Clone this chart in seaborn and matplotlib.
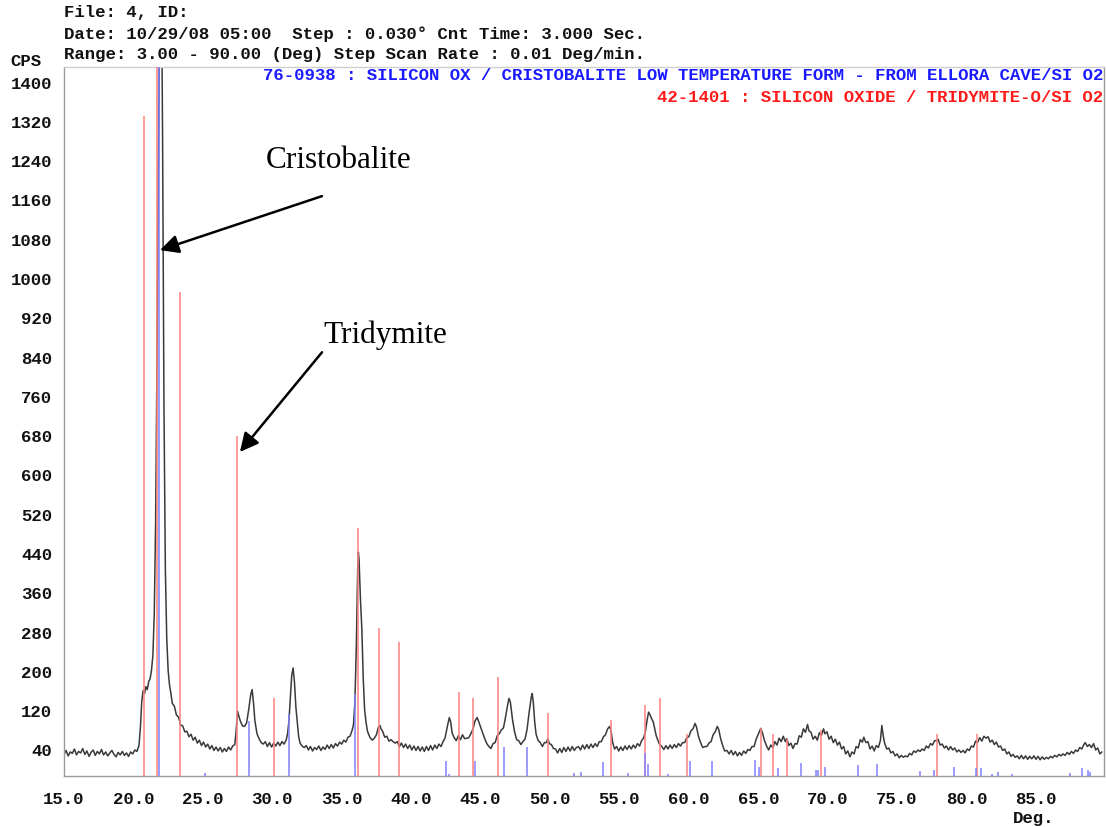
import matplotlib
matplotlib.use("Agg")
import matplotlib.pyplot as plt
from matplotlib.ticker import FixedLocator, MultipleLocator
import pandas as pd
import seaborn as sns

# Measured scan: (2-theta in degrees, counts per second)
scan = [
    (15.00, 44), (15.15, 52), (15.30, 41), (15.45, 49), (15.60, 46), (15.75, 55), (15.90, 43), (16.05, 50), (16.20, 47), (16.35, 56),
    (16.50, 44), (16.65, 51), (16.80, 40), (16.95, 48), (17.10, 53), (17.25, 42), (17.40, 50), (17.55, 45), (17.70, 54), (17.85, 43),
    (18.00, 49), (18.15, 41), (18.30, 47), (18.45, 52), (18.60, 44), (18.75, 39), (18.90, 48), (19.05, 43), (19.20, 50), (19.35, 42),
    (19.50, 47), (19.65, 40), (19.80, 49), (19.95, 45), (20.10, 53), (20.25, 50), (20.40, 62), (20.50, 98), (20.60, 152), (20.70, 174),
    (20.80, 168), (20.90, 182), (21.00, 176), (21.10, 192), (21.20, 198), (21.30, 215), (21.40, 245), (21.50, 330), (21.60, 520), (21.70, 860),
    (21.80, 1250), (21.90, 1600), (22.00, 1700), (22.10, 1300), (22.20, 750), (22.30, 420), (22.40, 280), (22.50, 215), (22.60, 185), (22.70, 168),
    (22.80, 148), (22.95, 142), (23.10, 124), (23.25, 120), (23.40, 104), (23.55, 102), (23.70, 90), (23.85, 91), (24.00, 80), (24.15, 85),
    (24.30, 73), (24.45, 79), (24.60, 67), (24.75, 73), (24.90, 62), (25.05, 69), (25.20, 59), (25.35, 65), (25.50, 55), (25.65, 62),
    (25.80, 52), (25.95, 59), (26.10, 51), (26.25, 58), (26.40, 49), (26.55, 56), (26.70, 50), (26.85, 59), (27.00, 53), (27.15, 61),
    (27.30, 64), (27.40, 92), (27.50, 132), (27.60, 121), (27.70, 112), (27.85, 102), (28.00, 101), (28.15, 108), (28.30, 135), (28.45, 166),
    (28.55, 176), (28.65, 148), (28.75, 112), (28.90, 86), (29.05, 76), (29.20, 68), (29.35, 65), (29.50, 70), (29.65, 60), (29.80, 68),
    (29.95, 59), (30.10, 67), (30.25, 61), (30.40, 69), (30.55, 62), (30.70, 70), (30.85, 65), (31.00, 73), (31.10, 86), (31.20, 112),
    (31.30, 160), (31.40, 205), (31.50, 220), (31.60, 190), (31.70, 140), (31.80, 110), (31.90, 80), (32.00, 67), (32.15, 61), (32.30, 58),
    (32.45, 62), (32.60, 53), (32.75, 60), (32.90, 51), (33.05, 58), (33.20, 54), (33.35, 61), (33.50, 52), (33.65, 59), (33.80, 54),
    (33.95, 63), (34.10, 56), (34.25, 64), (34.40, 57), (34.55, 66), (34.70, 61), (34.85, 69), (35.00, 65), (35.15, 73), (35.30, 69),
    (35.45, 79), (35.60, 81), (35.75, 93), (35.85, 105), (35.95, 150), (36.05, 260), (36.15, 420), (36.20, 456), (36.25, 440), (36.35, 360),
    (36.45, 300), (36.55, 200), (36.65, 135), (36.75, 110), (36.85, 92), (36.95, 84), (37.05, 78), (37.20, 73), (37.35, 77), (37.50, 84),
    (37.65, 100), (37.75, 103), (37.85, 95), (37.95, 91), (38.10, 79), (38.25, 81), (38.40, 71), (38.55, 74), (38.70, 70), (38.85, 67),
    (39.00, 70), (39.15, 60), (39.30, 67), (39.45, 58), (39.60, 65), (39.75, 56), (39.90, 63), (40.05, 53), (40.20, 61), (40.35, 52),
    (40.50, 60), (40.65, 51), (40.80, 59), (40.95, 50), (41.10, 60), (41.25, 52), (41.40, 62), (41.55, 53), (41.70, 63), (41.85, 56),
    (42.00, 65), (42.15, 60), (42.30, 70), (42.45, 78), (42.60, 100), (42.75, 119), (42.85, 110), (42.95, 88), (43.10, 78), (43.25, 72),
    (43.40, 82), (43.55, 74), (43.70, 84), (43.85, 76), (44.00, 77), (44.15, 78), (44.30, 86), (44.45, 95), (44.60, 112), (44.75, 119),
    (44.85, 112), (45.00, 100), (45.15, 88), (45.30, 76), (45.45, 66), (45.60, 60), (45.75, 56), (45.90, 66), (46.05, 68), (46.20, 82),
    (46.35, 86), (46.50, 94), (46.65, 98), (46.80, 120), (46.95, 145), (47.05, 158), (47.15, 150), (47.30, 115), (47.45, 90), (47.60, 74),
    (47.75, 72), (47.90, 64), (48.05, 70), (48.20, 75), (48.35, 95), (48.50, 130), (48.65, 160), (48.72, 168), (48.80, 150), (48.90, 110),
    (49.00, 85), (49.15, 72), (49.30, 68), (49.45, 60), (49.60, 68), (49.75, 68), (49.85, 76), (49.95, 66), (50.10, 64), (50.25, 56),
    (50.40, 55), (50.55, 47), (50.70, 56), (50.85, 48), (51.00, 58), (51.15, 50), (51.30, 59), (51.45, 51), (51.60, 60), (51.75, 52),
    (51.90, 58), (52.05, 60), (52.20, 53), (52.35, 63), (52.50, 55), (52.65, 64), (52.80, 56), (52.95, 65), (53.10, 58), (53.25, 66),
    (53.40, 60), (53.55, 70), (53.70, 70), (53.85, 80), (54.00, 84), (54.15, 96), (54.30, 101), (54.40, 92), (54.50, 70), (54.65, 55),
    (54.80, 60), (54.95, 51), (55.10, 59), (55.25, 52), (55.40, 61), (55.55, 54), (55.70, 62), (55.85, 55), (56.00, 63), (56.15, 57),
    (56.30, 66), (56.45, 61), (56.60, 72), (56.75, 78), (56.87, 90), (57.00, 115), (57.10, 130), (57.20, 125), (57.30, 118), (57.44, 110),
    (57.55, 95), (57.65, 82), (57.78, 72), (57.90, 64), (58.05, 60), (58.20, 54), (58.35, 62), (58.50, 55), (58.65, 63), (58.80, 56),
    (58.95, 64), (59.10, 58), (59.25, 66), (59.40, 61), (59.55, 68), (59.70, 68), (59.85, 78), (60.00, 80), (60.15, 92), (60.30, 96),
    (60.45, 107), (60.55, 100), (60.70, 80), (60.85, 68), (61.00, 58), (61.15, 60), (61.30, 60), (61.45, 67), (61.60, 70), (61.75, 84),
    (61.90, 90), (62.05, 101), (62.15, 95), (62.30, 75), (62.45, 61), (62.58, 51), (62.75, 52), (62.90, 45), (63.05, 52), (63.20, 43),
    (63.35, 50), (63.50, 41), (63.65, 48), (63.80, 42), (63.95, 51), (64.10, 46), (64.25, 54), (64.40, 52), (64.55, 60), (64.70, 60),
    (64.85, 75), (65.00, 85), (65.18, 97), (65.30, 88), (65.45, 72), (65.60, 61), (65.75, 53), (65.90, 63), (66.05, 58), (66.20, 70),
    (66.35, 63), (66.50, 77), (66.65, 70), (66.80, 81), (66.95, 70), (67.05, 76), (67.20, 62), (67.35, 67), (67.50, 56), (67.65, 66),
    (67.80, 65), (67.95, 82), (68.10, 79), (68.25, 96), (68.40, 89), (68.55, 105), (68.65, 92), (68.80, 89), (68.95, 75), (69.10, 81),
    (69.25, 73), (69.40, 88), (69.55, 83), (69.70, 96), (69.80, 86), (69.95, 90), (70.10, 75), (70.25, 81), (70.40, 68), (70.55, 75),
    (70.70, 63), (70.85, 69), (71.00, 55), (71.15, 60), (71.30, 45), (71.45, 51), (71.60, 39), (71.75, 49), (71.90, 45), (72.05, 60),
    (72.20, 57), (72.35, 74), (72.50, 69), (72.60, 79), (72.75, 68), (72.90, 70), (73.05, 55), (73.20, 61), (73.35, 51), (73.50, 62),
    (73.65, 58), (73.80, 73), (73.90, 103), (74.00, 82), (74.10, 67), (74.25, 55), (74.40, 57), (74.55, 47), (74.70, 50), (74.85, 41),
    (75.00, 45), (75.15, 37), (75.30, 42), (75.45, 38), (75.60, 41), (75.75, 39), (75.90, 46), (76.05, 43), (76.20, 51), (76.35, 48),
    (76.50, 53), (76.65, 50), (76.80, 55), (76.95, 52), (77.10, 61), (77.25, 57), (77.40, 66), (77.55, 63), (77.70, 72), (77.85, 72),
    (77.95, 75), (78.10, 63), (78.25, 65), (78.40, 57), (78.55, 61), (78.70, 53), (78.85, 60), (79.00, 53), (79.15, 57), (79.30, 49),
    (79.45, 53), (79.60, 48), (79.75, 52), (79.90, 47), (80.05, 55), (80.20, 52), (80.35, 61), (80.50, 59), (80.65, 71), (80.80, 69),
    (80.95, 78), (81.10, 71), (81.25, 81), (81.40, 77), (81.55, 80), (81.70, 69), (81.85, 73), (82.00, 64), (82.15, 69), (82.30, 59),
    (82.45, 61), (82.60, 52), (82.75, 55), (82.90, 45), (83.05, 49), (83.20, 40), (83.35, 44), (83.50, 38), (83.65, 41), (83.80, 35),
    (83.95, 42), (84.10, 35), (84.25, 41), (84.40, 34), (84.55, 40), (84.70, 35), (84.85, 41), (85.00, 34), (85.15, 40), (85.30, 33),
    (85.45, 39), (85.60, 34), (85.75, 38), (85.90, 35), (86.05, 40), (86.20, 37), (86.35, 42), (86.50, 39), (86.65, 44), (86.80, 41),
    (86.95, 45), (87.10, 42), (87.25, 48), (87.40, 44), (87.55, 50), (87.70, 46), (87.85, 53), (88.00, 50), (88.15, 58), (88.30, 55),
    (88.45, 64), (88.55, 68), (88.70, 60), (88.85, 64), (89.00, 58), (89.15, 66), (89.30, 53), (89.45, 57), (89.60, 45), (89.75, 49),
]
scan_deg = [p[0] for p in scan]
scan_cps = [p[1] for p in scan]

# Reference pattern 42-1401 (tridymite-O)
tridymite_deg = [20.75, 21.70, 23.36, 27.47, 30.14, 36.15, 37.71, 39.15, 43.48, 44.42, 46.29,
                 49.86, 54.37, 56.82, 57.90, 59.88, 65.17, 66.05, 67.04, 69.50, 77.87, 80.75]
tridymite_cps = [1345, 1500, 985, 693, 158, 505, 301, 273, 172, 158, 201,
                 128, 115, 145, 158, 86, 98, 86, 75, 93, 85, 85]

# Reference pattern 76-0938 (cristobalite, low temperature form)
cristobalite_deg = [21.85, 25.17, 28.29, 31.24, 35.98, 42.52, 42.76, 44.58, 46.67, 48.38,
                    51.74, 52.26, 53.80, 55.64, 56.82, 57.03, 58.50, 60.07, 61.68, 64.80,
                    65.07, 66.42, 68.06, 69.15, 69.30, 69.80, 72.20, 73.56, 76.66, 77.64,
                    79.10, 80.70, 81.05, 81.84, 82.27, 83.30, 87.45, 88.30, 88.74, 88.90]
cristobalite_cps = [1500, 6, 113, 127, 168, 30, 4, 30, 59, 59,
                    6, 9, 29, 6, 46, 24, 4, 30, 30, 32,
                    19, 16, 27, 12, 13, 19, 23, 24, 11, 12,
                    18, 16, 16, 4, 9, 5, 6, 16, 12, 9]

y_ticks = list(range(40, 1401, 80))
x_ticks = [15.0, 20.0, 25.0, 30.0, 35.0, 40.0, 45.0, 50.0, 55.0, 60.0, 65.0, 70.0, 75.0, 80.0, 85.0]

header_lines = [
    "File: 4, ID:",
    "Date: 10/29/08 05:00  Step : 0.030\u00b0 Cnt Time: 3.000 Sec.",
    "Range: 3.00 - 90.00 (Deg) Step Scan Rate : 0.01 Deg/min.",
]
cristobalite_card = "76-0938 : SILICON OX / CRISTOBALITE LOW TEMPERATURE FORM - FROM ELLORA CAVE/SI O2"
tridymite_card = "42-1401 : SILICON OXIDE / TRIDYMITE-O/SI O2"

sns.set_style("white")
plt.rcParams["font.family"] = ["Liberation Mono", "DejaVu Sans Mono"]

MONO = dict(family="Liberation Mono", weight="bold", size=12.5)
W, H = 1106, 827
fig = plt.figure(figsize=(W / 100, H / 100), dpi=100)
ax = fig.add_axes([64 / W, 1 - 776 / H, (1104 - 64) / W, (776 - 67) / H])

df = pd.DataFrame({"deg": scan_deg, "cps": scan_cps})
sns.lineplot(data=df, x="deg", y="cps", ax=ax, color="#3a3a3a", linewidth=1.1,
             estimator=None, sort=False, zorder=2)
ax.vlines(tridymite_deg, 0, tridymite_cps, colors="#ff8080", linewidth=1.1, zorder=3)
ax.vlines(cristobalite_deg, 0, cristobalite_cps, colors="#8080ff", linewidth=1.1, zorder=3)

ax.set_xlim(15.0, 89.9)
ax.set_ylim(0, 1444)
ax.set_xlabel("")
ax.set_ylabel("")

ax.xaxis.set_major_locator(FixedLocator(x_ticks))
ax.xaxis.set_minor_locator(MultipleLocator(1.0))
ax.yaxis.set_major_locator(FixedLocator(y_ticks))
ax.yaxis.set_minor_locator(FixedLocator([v - 40 for v in y_ticks]))
ax.set_xticklabels([f"{v:.1f}" for v in x_ticks])
ax.set_yticklabels([str(v) for v in y_ticks])

ax.tick_params(axis="both", which="both", direction="out", color="#8c8c8c", width=1.0)
ax.tick_params(axis="x", which="major", length=7.5, pad=4)
ax.tick_params(axis="x", which="minor", length=5)
ax.tick_params(axis="y", which="major", length=7.5, pad=1)
ax.tick_params(axis="y", which="minor", length=4)
for lab in ax.get_xticklabels() + ax.get_yticklabels():
    lab.set_fontfamily(MONO["family"])
    lab.set_fontweight(MONO["weight"])
    lab.set_fontsize(MONO["size"])
    lab.set_color("#111111")
for lab in ax.get_yticklabels():
    lab.set_verticalalignment("baseline")

for name, sp in ax.spines.items():
    sp.set_visible(True)
    sp.set_linewidth(1.0)
    sp.set_color("#9a9a9a" if name != "top" else "#cfcfcf")

# Header block
for i, line in enumerate(header_lines):
    fig.text(64 / W, 1 - (13 + 21 * i) / H, line, ha="left", va="center",
             color="#111111", **MONO)
fig.text(10 / W, 1 - 62 / H, "CPS", ha="left", va="center", color="#111111", **MONO)
fig.text(1034 / W, 1 - 818 / H, "Deg.", ha="center", va="center", color="#111111", **MONO)

# Reference card captions
fig.text(1103 / W, 1 - 76 / H, cristobalite_card, ha="right", va="center", color="#1a1aff", **MONO)
fig.text(1103 / W, 1 - 97 / H, tridymite_card, ha="right", va="center", color="#ff1a1a", **MONO)

# Phase annotations
serif = dict(family="Liberation Serif", size=22.5, color="black")
ax.text(34.80, 1254, "Cristobalite", ha="center", va="center", **serif)
ax.text(38.12, 898, "Tridymite", ha="center", va="center", **serif)
arrow = dict(arrowstyle="-|>", color="black", lw=1.8, mutation_scale=28, shrinkA=0, shrinkB=0)
ax.annotate("", xy=(21.91, 1071), xytext=(33.58, 1181), arrowprops=arrow, zorder=5)
ax.annotate("", xy=(27.67, 660), xytext=(33.58, 863), arrowprops=arrow, zorder=5)

fig.savefig("out.png", dpi=100)
